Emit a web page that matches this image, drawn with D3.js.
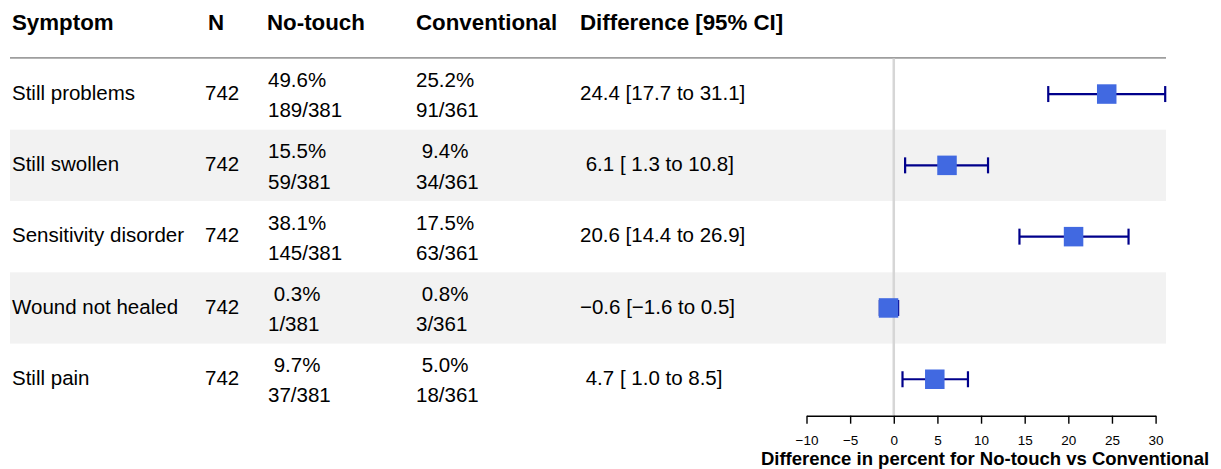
<!DOCTYPE html>
<html>
<head>
<meta charset="utf-8">
<script src="https://cdn.jsdelivr.net/npm/d3@7"></script>
<style>
  html, body { margin: 0; padding: 0; background: #fff; }
  svg { display: block; }
  text { font-family: "Liberation Sans", Arial, Helvetica, sans-serif; white-space: pre; }
</style>
</head>
<body>
<svg id="chart" width="1221" height="469"></svg>
<script>
// Outcome table: one entry per symptom
const symptoms     = ["Still problems", "Still swollen", "Sensitivity disorder", "Wound not healed", "Still pain"];
const totals       = [742, 742, 742, 742, 742];
const noTouchPct   = [49.6, 15.5, 38.1, 0.3, 9.7];
const noTouchCount = ["189/381", "59/381", "145/381", "1/381", "37/381"];
const convPct      = [25.2, 9.4, 17.5, 0.8, 5.0];
const convCount    = ["91/361", "34/361", "63/361", "3/361", "18/361"];
const diffEst      = [24.4, 6.1, 20.6, -0.6, 4.7];
const diffLow      = [17.7, 1.3, 14.4, -1.6, 1.0];
const diffHigh     = [31.1, 10.8, 26.9, 0.5, 8.5];

const headers  = ["Symptom", "N", "No-touch", "Conventional", "Difference [95% CI]"];
const axisTicks = [-10, -5, 0, 5, 10, 15, 20, 25, 30];
const axisTitle = "Difference in percent for No-touch vs Conventional";

const svg = d3.select("#chart");

// Layout
const rowTop = 58.4, rowH = 71.3;
const tableLeft = 10, tableRight = 1166;
const headX = [12, 208, 267, 416, 580];
const bodyX = [12, 205, 268, 416, 580];
const fontBody = 20.5, fontHead = 22.3;

const x = d3.scaleLinear().domain([-10, 30]).range([806.5, 1155.6]);
const y = i => rowTop + rowH * (i + 0.5);

// Number formatting, padded the way a fixed-width table would be
const f1 = d3.format(".1f");
const fmt = v => f1(v);                 // d3 uses the proper minus sign
const pad = (s, w) => s.length >= w ? s : " ".repeat(w - s.length) + s;

// Alternating row shading
svg.append("g").selectAll("rect")
  .data(symptoms.map((d, i) => i).filter(i => i % 2 === 1))
  .join("rect")
  .attr("x", tableLeft).attr("width", tableRight - tableLeft)
  .attr("y", i => rowTop + rowH * i).attr("height", rowH)
  .attr("fill", "#f2f2f2");

// Header
svg.append("g").selectAll("text")
  .data(headers)
  .join("text")
  .attr("x", (d, i) => headX[i]).attr("y", 30)
  .attr("font-size", fontHead).attr("font-weight", "bold")
  .attr("fill", "#000")
  .text(d => d);

svg.append("line")
  .attr("x1", tableLeft).attr("x2", tableRight)
  .attr("y1", rowTop - 0.5).attr("y2", rowTop - 0.5)
  .attr("stroke", "#9e9e9e").attr("stroke-width", 1.6);

// Body cells
const body = svg.append("g").attr("font-size", fontBody).attr("fill", "#000");
const single = (col, accessor) => body.append("g").selectAll("text")
  .data(symptoms).join("text")
  .attr("x", bodyX[col]).attr("y", (d, i) => y(i) + 5.6)
  .text((d, i) => accessor(i));

const double = (col, top, bottom) => {
  const g = body.append("g");
  g.selectAll("text.t").data(symptoms).join("text").attr("class", "t")
    .attr("x", bodyX[col]).attr("y", (d, i) => y(i) - 7)
    .text((d, i) => top(i));
  g.selectAll("text.b").data(symptoms).join("text").attr("class", "b")
    .attr("x", bodyX[col]).attr("y", (d, i) => y(i) + 23.2)
    .text((d, i) => bottom(i));
};

single(0, i => symptoms[i]);
single(1, i => String(totals[i]));
double(2, i => pad(fmt(noTouchPct[i]), 4) + "%", i => noTouchCount[i]);
double(3, i => pad(fmt(convPct[i]), 4) + "%", i => convCount[i]);
single(4, i => `${pad(fmt(diffEst[i]), 4)} [${pad(fmt(diffLow[i]), 4)} to ${fmt(diffHigh[i])}]`);

// Reference line at zero difference
svg.append("line")
  .attr("x1", x(0)).attr("x2", x(0))
  .attr("y1", rowTop).attr("y2", rowTop + rowH * symptoms.length)
  .attr("stroke", "#d6d6d6").attr("stroke-width", 2.5);

// Confidence intervals and point estimates
const ci = svg.append("g").attr("stroke", "#00008b").attr("stroke-width", 2.2).attr("fill", "none");
const capH = 16;
symptoms.forEach((s, i) => {
  const cy = y(i);
  ci.append("line").attr("x1", x(diffLow[i])).attr("x2", x(diffHigh[i])).attr("y1", cy).attr("y2", cy);
  ci.append("line").attr("x1", x(diffLow[i])).attr("x2", x(diffLow[i])).attr("y1", cy - capH / 2).attr("y2", cy + capH / 2);
  ci.append("line").attr("x1", x(diffHigh[i])).attr("x2", x(diffHigh[i])).attr("y1", cy - capH / 2).attr("y2", cy + capH / 2);
});

const box = 19.5;
svg.append("g").selectAll("rect")
  .data(diffEst)
  .join("rect")
  .attr("x", d => x(d) - box / 2)
  .attr("y", (d, i) => y(i) - box / 2)
  .attr("width", box).attr("height", box)
  .attr("fill", "#4169e1");

// Axis
const axisY = 415.7;
const axis = svg.append("g")
  .attr("transform", `translate(0,${axisY})`)
  .call(d3.axisBottom(x).tickValues(axisTicks).tickSize(8).tickSizeOuter(0).tickPadding(12)
    .tickFormat(d3.format("d")));
axis.select(".domain").attr("stroke", "#000").attr("stroke-width", 1.4);
axis.selectAll(".tick line").attr("stroke", "#000").attr("stroke-width", 1.4);
axis.selectAll(".tick text")
  .attr("font-family", "'Liberation Sans', Arial, Helvetica, sans-serif")
  .attr("font-size", 13.5).attr("fill", "#000");

svg.append("text")
  .attr("x", 985).attr("y", 465)
  .attr("text-anchor", "middle")
  .attr("font-size", 18.5).attr("font-weight", "bold").attr("fill", "#000")
  .text(axisTitle);
</script>
</body>
</html>
